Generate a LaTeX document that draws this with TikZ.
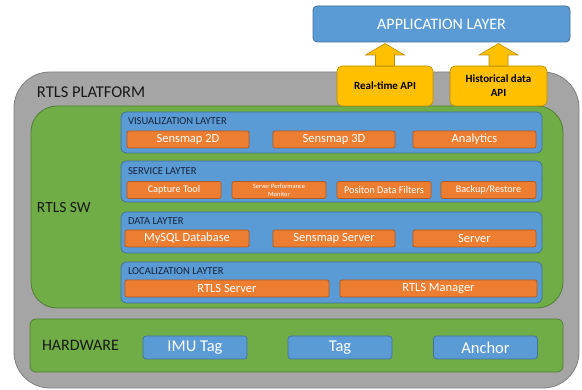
\documentclass[tikz,border=0pt]{standalone}
\usepackage{fontspec}
\setmainfont{Carlito}
\usetikzlibrary{calc}
\definecolor{ublue}{HTML}{5B9BD5}
\definecolor{ubluedk}{HTML}{41719C}
\definecolor{uorange}{HTML}{ED7D31}
\definecolor{uorangedk}{HTML}{AE5A21}
\definecolor{ugreen}{HTML}{70AD47}
\definecolor{ugreendk}{HTML}{507E32}
\definecolor{ugray}{HTML}{A5A5A5}
\definecolor{ugraydk}{HTML}{7F7F7F}
\definecolor{ugold}{HTML}{FFC000}
\definecolor{ugolddk}{HTML}{BC8C00}
\definecolor{navy}{HTML}{17233A}
\tikzset{
  every node/.style={inner sep=0pt, outer sep=0pt},
  platform/.style={fill=ugray, draw=ugraydk, line width=0.8pt, rounded corners=36pt},
  swbox/.style={fill=ugreen, draw=ugreendk, line width=0.8pt, rounded corners=26pt},
  hwbox/.style={fill=ugreen, draw=ugreendk, line width=0.8pt, rounded corners=6pt},
  layerbox/.style={fill=ublue, draw=ubluedk, line width=0.8pt, rounded corners=5pt, minimum width=421pt, minimum height=41pt},
  comp/.style={fill=uorange, draw=uorangedk, line width=0.7pt, rounded corners=2pt, minimum height=17pt, text=white, font=\fontsize{12.5}{13}\selectfont},
  scomp/.style={comp, font=\fontsize{10.2}{11}\selectfont},
  hwcomp/.style={fill=ublue, draw=ubluedk, line width=0.7pt, rounded corners=3pt, minimum width=104pt, minimum height=23pt, text=white, font=\fontsize{16.5}{17}\selectfont},
  apibox/.style={fill=ugold, draw=ugolddk, line width=0.7pt, rounded corners=5pt, minimum width=96pt, minimum height=40pt, text=black, align=center, font=\bfseries\fontsize{11}{14}\selectfont},
  blockarrow/.style={fill=ugold, draw=ugolddk, line width=0.6pt},
  layertitle/.style={anchor=base west, text=navy, font=\fontsize{10.6}{11}\selectfont},
  bigtitle/.style={anchor=base west, text=black!90, font=\fontsize{16}{17}\selectfont},
}
\begin{document}
\begin{tikzpicture}[x=1pt, y=-1pt]
\useasboundingbox (0,0) rectangle (582,390);
% application layer
\node (app) [fill=ublue, draw=ubluedk, line width=0.8pt, rounded corners=4pt, minimum width=257pt, minimum height=36pt, text=white, font=\fontsize{16}{17}\selectfont] at (441.5,24) {APPLICATION LAYER};
% platform
\node (plat) [platform, minimum width=565pt, minimum height=316pt] at (296.5,230) {};
\node (plattitle) [bigtitle, font=\fontsize{16.5}{17}\selectfont] at (37,98) {RTLS PLATFORM};
% RTLS SW
\node (sw) [swbox, minimum width=532pt, minimum height=202pt] at (297,207) {};
\node (swtitle) [bigtitle, font=\fontsize{15.5}{16}\selectfont] at (37,213) {RTLS SW};
% layers
\node (vis) [layerbox] at (331.5,132.5) {};
\node (srv) [layerbox] at (331.5,181.5) {};
\node (dat) [layerbox] at (331.5,232.5) {};
\node (loc) [layerbox] at (331.5,282.5) {};
\node (vist) [layertitle] at (128,124.5) {VISUALIZATION LAYTER};
\node (srvt) [layertitle] at (128,174.5) {SERVICE LAYTER};
\node (datt) [layertitle] at (128,224.5) {DATA LAYTER};
\node (loct) [layertitle] at (128,274.5) {LOCALIZATION LAYTER};
% visualization components
\node (s2d) [comp, minimum width=122pt] at (188,139.5) {Sensmap 2D};
\node (s3d) [comp, minimum width=122pt] at (334,139.5) {Sensmap 3D};
\node (ana) [comp, minimum width=123pt] at (474.5,139.5) {Analytics};
% service components
\node (cap) [scomp, minimum width=94pt] at (174,190) {Capture Tool};
\node (spm) [scomp, minimum width=94pt, align=center, font=\fontsize{6.5}{8}\selectfont] at (279,190) {Server Performance\\Monitor};
\node (pdf) [scomp, minimum width=94pt] at (384,190) {Positon Data Filters};
\node (bkp) [scomp, minimum width=95pt] at (488.5,190) {Backup/Restore};
% data components
\node (sql) [comp, minimum width=124pt, font=\fontsize{12.5}{13}\selectfont] at (187,238.5) {MySQL Database};
\node (ssv) [comp, minimum width=122pt, font=\fontsize{12.5}{13}\selectfont] at (334,238.5) {Sensmap Server};
\node (svr) [comp, minimum width=123pt, font=\fontsize{12.5}{13}\selectfont] at (474.5,238.5) {Server};
% localization components
\node (rsv) [comp, minimum width=204pt, font=\fontsize{12.5}{13}\selectfont] at (227,288.5) {RTLS Server};
\node (rmg) [comp, minimum width=197pt, font=\fontsize{12.5}{13}\selectfont] at (438.5,288.5) {RTLS Manager};
% hardware
\node (hw) [hwbox, minimum width=533pt, minimum height=53pt] at (296.5,345.5) {};
\node (hwt) [bigtitle, font=\fontsize{16}{17}\selectfont] at (42,351) {HARDWARE};
\node (imu) [hwcomp] at (195,347.5) {IMU Tag};
\node (tag) [hwcomp] at (340,347.5) {Tag};
\node (anc) [hwcomp] at (485.5,347.5) {Anchor};
% APIs
\node (rt) [apibox] at (385,86) {Real-time API};
\node (hist) [apibox, minimum width=97pt] at (498.5,86) {Historical data\\API};
% block arrows
\draw[blockarrow] (rt.north) ++(-9.5,0) -- ++(0,-11) -- ++(-10,0) -- ++(19.5,-11.5) -- ++(19.5,11.5) -- ++(-10,0) -- ++(0,11) -- cycle;
\draw[blockarrow] (hist.north) ++(-9.5,0) -- ++(0,-11) -- ++(-10,0) -- ++(19.5,-11.5) -- ++(19.5,11.5) -- ++(-10,0) -- ++(0,11) -- cycle;
\end{tikzpicture}
\end{document}
